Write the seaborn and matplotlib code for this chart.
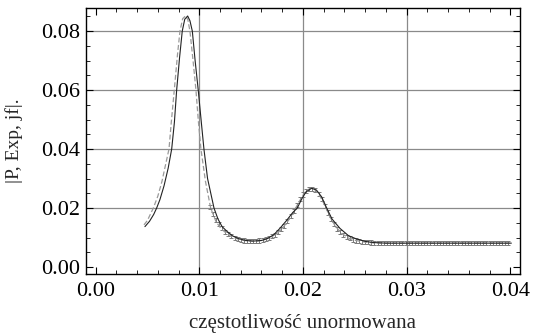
import matplotlib
matplotlib.use("Agg")
import matplotlib.pyplot as plt
import pandas as pd
import seaborn as sns

# fitted model (solid black)
fit_x = [0.00476, 0.0052, 0.0056, 0.00589, 0.0062, 0.0066, 0.0070, 0.00734, 0.0076, 0.00782,
         0.0081, 0.00836, 0.0086, 0.00888, 0.0091, 0.00933, 0.0096, 0.0099, 0.0102, 0.01045,
         0.0108, 0.01142, 0.0118, 0.0122, 0.0127, 0.0132, 0.0138, 0.0145, 0.0152, 0.0160,
         0.0166, 0.0172, 0.0178, 0.0184, 0.0190, 0.01945, 0.0199, 0.0203, 0.02084, 0.0213,
         0.0218, 0.02229, 0.0228, 0.02357, 0.0244, 0.02518, 0.0260, 0.0268, 0.0280, 0.0401]
fit_y = [0.0137, 0.0155, 0.0178, 0.0200, 0.0228, 0.0275, 0.0335, 0.0400, 0.0490, 0.0600,
         0.0710, 0.0800, 0.0840, 0.0851, 0.0835, 0.0800, 0.0700, 0.0600, 0.0490, 0.0400,
         0.0300, 0.0200, 0.0163, 0.0137, 0.0120, 0.0106, 0.0096, 0.0090, 0.0088, 0.0090,
         0.0097, 0.0110, 0.0132, 0.0157, 0.0184, 0.0200, 0.0232, 0.0255, 0.0267, 0.0261,
         0.0238, 0.0200, 0.0163, 0.0131, 0.0106, 0.0095, 0.0087, 0.0083, 0.0081, 0.0081]

# second model (gray dashed)
alt_x = [0.00467, 0.0050, 0.00557, 0.0060, 0.0064, 0.0068, 0.00708, 0.0073, 0.00759, 0.0079,
         0.00814, 0.0084, 0.00869, 0.0089, 0.0091, 0.0094, 0.00968, 0.0099, 0.01016, 0.0106,
         0.0111, 0.0116, 0.0121, 0.0127, 0.0133, 0.0140, 0.0148, 0.0156, 0.0163, 0.0170,
         0.0176, 0.0181, 0.0186, 0.0191, 0.0196, 0.0201, 0.0205, 0.0208, 0.0212, 0.0216,
         0.0221, 0.0226, 0.0231, 0.0237, 0.0244, 0.0251, 0.0259, 0.0268, 0.0280, 0.0400]
alt_y = [0.0143, 0.0158, 0.0200, 0.0240, 0.0290, 0.0355, 0.0400, 0.0490, 0.0600, 0.0720,
         0.0800, 0.0842, 0.0852, 0.0838, 0.0800, 0.0700, 0.0600, 0.0500, 0.0400, 0.0290,
         0.0200, 0.0155, 0.0130, 0.0112, 0.0100, 0.0092, 0.0088, 0.0088, 0.0093, 0.0103,
         0.0117, 0.0135, 0.0158, 0.0187, 0.0220, 0.0248, 0.0263, 0.0267, 0.0261, 0.0243,
         0.0210, 0.0170, 0.0140, 0.0115, 0.0098, 0.0090, 0.0085, 0.0082, 0.0081, 0.0081]

# measured spectrum (gray error bars)
exp_x = [0.0110, 0.0113, 0.0116, 0.0119, 0.0122, 0.0125, 0.0128, 0.0131, 0.0134, 0.0137,
         0.0140, 0.0143, 0.0146, 0.0149, 0.0152, 0.0155, 0.0158, 0.0161, 0.0164, 0.0167,
         0.0170, 0.0173, 0.0176, 0.0179, 0.0182, 0.0185, 0.0188, 0.0191, 0.0194, 0.0197,
         0.0200, 0.0203, 0.0206, 0.0209, 0.0212, 0.0215, 0.0218, 0.0221, 0.0224, 0.0227,
         0.0230, 0.0233, 0.0236, 0.0239, 0.0242, 0.0245, 0.0248, 0.0251, 0.0254, 0.0257,
         0.0260, 0.0263, 0.0266, 0.0269, 0.0272, 0.0275, 0.0278, 0.0281, 0.0284, 0.0287,
         0.0290, 0.0293, 0.0296, 0.0299, 0.0302, 0.0305, 0.0308, 0.0311, 0.0314, 0.0317,
         0.0320, 0.0323, 0.0326, 0.0329, 0.0332, 0.0335, 0.0338, 0.0341, 0.0344, 0.0347,
         0.0350, 0.0353, 0.0356, 0.0359, 0.0362, 0.0365, 0.0368, 0.0371, 0.0374, 0.0377,
         0.0380, 0.0383, 0.0386, 0.0389, 0.0392, 0.0395, 0.0398]
exp_y = [0.0205, 0.0180, 0.0160, 0.0145, 0.0132, 0.0120, 0.0111, 0.0104, 0.0099, 0.0095,
         0.0092, 0.0090, 0.0089, 0.0088, 0.0088, 0.0089, 0.0090, 0.0092, 0.0095, 0.0099,
         0.0104, 0.0110, 0.0118, 0.0128, 0.0140, 0.0155, 0.0172, 0.0190, 0.0210, 0.0230,
         0.0246, 0.0258, 0.0265, 0.0266, 0.0260, 0.0248, 0.0230, 0.0208, 0.0185, 0.0163,
         0.0145, 0.0130, 0.0118, 0.0109, 0.0102, 0.0097, 0.0093, 0.0090, 0.0088, 0.0086,
         0.0085, 0.0084, 0.0083, 0.0082, 0.0082, 0.0081, 0.0081, 0.0081, 0.0081, 0.0081,
         0.0081, 0.0081, 0.0081, 0.0081, 0.0081, 0.0081, 0.0081, 0.0081, 0.0081, 0.0081,
         0.0081, 0.0081, 0.0081, 0.0081, 0.0081, 0.0081, 0.0081, 0.0081, 0.0081, 0.0081,
         0.0081, 0.0081, 0.0081, 0.0081, 0.0081, 0.0081, 0.0081, 0.0081, 0.0081, 0.0081,
         0.0081, 0.0081, 0.0081, 0.0081, 0.0081, 0.0081, 0.0081]

x_ticks = [0.00, 0.01, 0.02, 0.03, 0.04]
y_ticks = [0.00, 0.02, 0.04, 0.06, 0.08]

sns.set_style("ticks")
plt.rcParams["font.family"] = ["Liberation Serif", "DejaVu Serif"]
plt.rcParams["font.size"] = 16

fig = plt.figure(figsize=(5.36, 3.35), dpi=100)
ax = fig.add_axes([0.1604, 0.182, 0.8097, 0.794])

for v in x_ticks[1:-1]:
    ax.axvline(v, color="#8a8a8a", lw=0.9, zorder=0)
for v in y_ticks[1:]:
    ax.axhline(v, color="#8a8a8a", lw=0.9, zorder=0)

ax.errorbar(exp_x, exp_y, yerr=0.0007, fmt="none", ecolor="#7a7a7a",
            elinewidth=0.7, capsize=1.3, capthick=0.7, zorder=2)

df_alt = pd.DataFrame({"x": alt_x, "y": alt_y})
df_fit = pd.DataFrame({"x": fit_x, "y": fit_y})
sns.lineplot(data=df_alt, x="x", y="y", ax=ax, color="#9a9a9a", lw=0.9,
             linestyle=(0, (4, 2)), estimator=None, sort=False, zorder=3)
sns.lineplot(data=df_fit, x="x", y="y", ax=ax, color="#222222", lw=0.8,
             estimator=None, sort=False, zorder=4)

ax.set_xlim(-0.000926, 0.04093)
ax.set_ylim(-0.00237, 0.0878)
ax.set_xticks(x_ticks)
ax.set_yticks(y_ticks)
ax.set_xticklabels([f"{v:.2f}" for v in x_ticks])
ax.set_yticklabels([f"{v:.2f}" for v in y_ticks])
ax.set_xticks([i * 0.002 for i in range(21)], minor=True)
ax.set_yticks([i * 0.005 for i in range(18)], minor=True)
ax.tick_params(which="both", direction="in", top=True, right=True, colors="black")
ax.tick_params(which="major", length=5, width=0.8, labelsize=16)
ax.tick_params(axis="x", which="major", pad=6)
ax.tick_params(axis="y", which="major", pad=4)
ax.tick_params(which="minor", length=3, width=0.6)
for s in ax.spines.values():
    s.set_linewidth(1.0)
    s.set_color("black")

ax.set_xlabel("częstotliwość unormowana", fontsize=15, labelpad=9)
ax.set_ylabel("|P, Exp, jf|.", fontsize=14, labelpad=13)

fig.savefig("out.png", dpi=100)
